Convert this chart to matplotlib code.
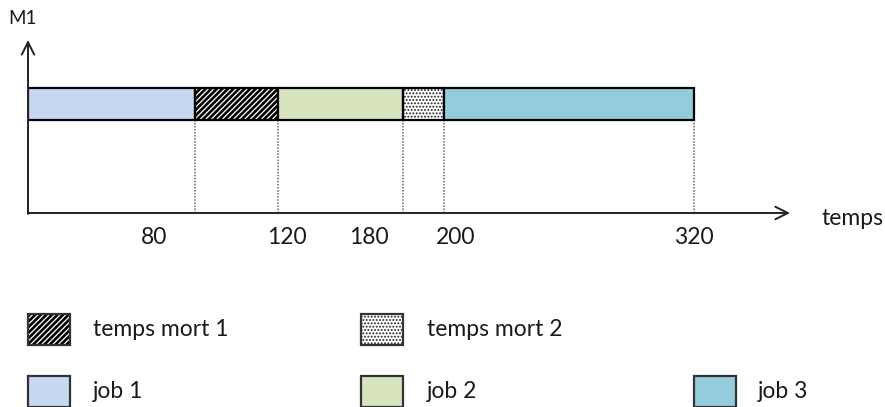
import matplotlib
matplotlib.use("Agg")
import matplotlib.pyplot as plt
from matplotlib.patches import Rectangle
from matplotlib.transforms import ScaledTranslation

# ---------------- data ----------------
machine = "M1"
x_title = "temps"
segments = ["job 1", "temps mort 1", "job 2", "temps mort 2", "job 3"]
seg_start = [0, 80, 120, 180, 200]
seg_end = [80, 120, 180, 200, 320]
tick_values = [80, 120, 180, 200, 320]
tick_labels = ["80", "120", "180", "200", "320"]
legend_row1 = ["temps mort 1", "temps mort 2"]
legend_row2 = ["job 1", "job 2", "job 3"]

# ---------------- style ----------------
W, H, DPI = 885, 407, 100
FONT = ["Lato", "DejaVu Sans"]
FS = 16.5
styles = {
    "job 1": dict(fc="#C6D9F1", hatch=None, hc=None, hlw=1.0),
    "job 2": dict(fc="#D7E4BD", hatch=None, hc=None, hlw=1.0),
    "job 3": dict(fc="#93CDDD", hatch=None, hc=None, hlw=1.0),
    "temps mort 1": dict(fc="white", hatch="//////", hc="black", hlw=1.9),
    "temps mort 2": dict(fc="white", hatch=".....", hc="#222222", hlw=0.9),
}
label_nudge_px = [-40, 9, -34, 11, 0]
plt.rcParams["font.family"] = FONT

fig = plt.figure(figsize=(W / DPI, H / DPI), dpi=DPI)

def fx(px):
    return px / W

def fy(py):
    return 1 - py / H

# main axes: pixel x 28..800, y 35..213
ax_l, ax_r, ax_t, ax_b = 28, 800, 35, 213
ax = fig.add_axes([fx(ax_l), fy(ax_b), (ax_r - ax_l) / W, (ax_b - ax_t) / H])
px_per_unit = (694 - 28) / 320
ax.set_xlim(0, (ax_r - ax_l) / px_per_unit)
ax.set_ylim(0, ax_b - ax_t)
for s in ax.spines.values():
    s.set_visible(False)
ax.set_xticks([])
ax.set_yticks([])
ax.patch.set_alpha(0)

bar_y = ax_b - 104
bar_h = 32
widths = [e - s for s, e in zip(seg_start, seg_end)]
for name, s, w in zip(segments, seg_start, widths):
    st = styles[name]
    if st["hatch"]:
        with plt.rc_context({"hatch.linewidth": st["hlw"]}):
            bars = ax.barh(bar_y, w, left=s, height=bar_h, color=st["fc"], hatch=st["hatch"],
                           edgecolor=st["hc"], linewidth=0, zorder=2)
            for b in bars:
                if hasattr(b, "set_hatch_linewidth"):
                    b.set_hatch_linewidth(st["hlw"])
        ax.barh(bar_y, w, left=s, height=bar_h, fill=False, edgecolor="black",
                linewidth=1.6, zorder=3)
    else:
        ax.barh(bar_y, w, left=s, height=bar_h, color=st["fc"], edgecolor="black",
                linewidth=1.6, zorder=3)

ax.vlines(tick_values, 0, bar_y - bar_h / 2, colors="#666666", linestyles=(0, (1, 1)),
          linewidth=1.1, zorder=1)

# axis arrows
arrow = dict(arrowstyle="->,head_length=0.9,head_width=0.45", color="#222222", lw=1.4,
             shrinkA=0, shrinkB=0)
ax.annotate("", xy=((790 - ax_l) / (ax_r - ax_l), 0), xytext=(0, 0),
            xycoords="axes fraction", textcoords="axes fraction", arrowprops=arrow,
            annotation_clip=False)
ax.annotate("", xy=(0, (ax_b - 40) / (ax_b - ax_t)), xytext=(0, -0.005),
            xycoords="axes fraction", textcoords="axes fraction", arrowprops=arrow,
            annotation_clip=False)

# tick labels
base = ax.get_xaxis_transform()
for v, lab, nud in zip(tick_values, tick_labels, label_nudge_px):
    tr = base + ScaledTranslation(nud / DPI, -24 / DPI, fig.dpi_scale_trans)
    ax.text(v, 0, lab, transform=tr, ha="center", va="center", fontsize=FS,
            color="#1a1a1a")

fig.text(fx(23), fy(19), machine, ha="center", va="center", fontsize=13.5, color="#1a1a1a")
fig.text(fx(822), fy(219), x_title, ha="left", va="center", fontsize=FS, color="#1a1a1a")

# legend
box_w, box_h = 42, 31
cols_box = [28, 361, 694]
cols_txt = [93, 427, 758]
rows = [(314, legend_row1), (376, legend_row2)]
for top, names in rows:
    for i, name in enumerate(names):
        st = styles[name]
        x0 = cols_box[i]
        if st["hatch"]:
            with plt.rc_context({"hatch.linewidth": st["hlw"]}):
                p = Rectangle((fx(x0), fy(top + box_h)), box_w / W, box_h / H,
                              transform=fig.transFigure, facecolor=st["fc"],
                              hatch=st["hatch"], edgecolor=st["hc"], linewidth=0)
                if hasattr(p, "set_hatch_linewidth"):
                    p.set_hatch_linewidth(st["hlw"])
            fig.patches.append(p)
            fig.patches.append(Rectangle((fx(x0), fy(top + box_h)), box_w / W, box_h / H,
                                         transform=fig.transFigure, fill=False,
                                         edgecolor="#333333", linewidth=1.6))
        else:
            fig.patches.append(Rectangle((fx(x0), fy(top + box_h)), box_w / W, box_h / H,
                                         transform=fig.transFigure, facecolor=st["fc"],
                                         edgecolor="#333333", linewidth=1.6))
        fig.text(fx(cols_txt[i]), fy(top + 16), name, ha="left", va="center",
                 fontsize=FS, color="#1a1a1a")

fig.savefig("out.png", dpi=DPI)
